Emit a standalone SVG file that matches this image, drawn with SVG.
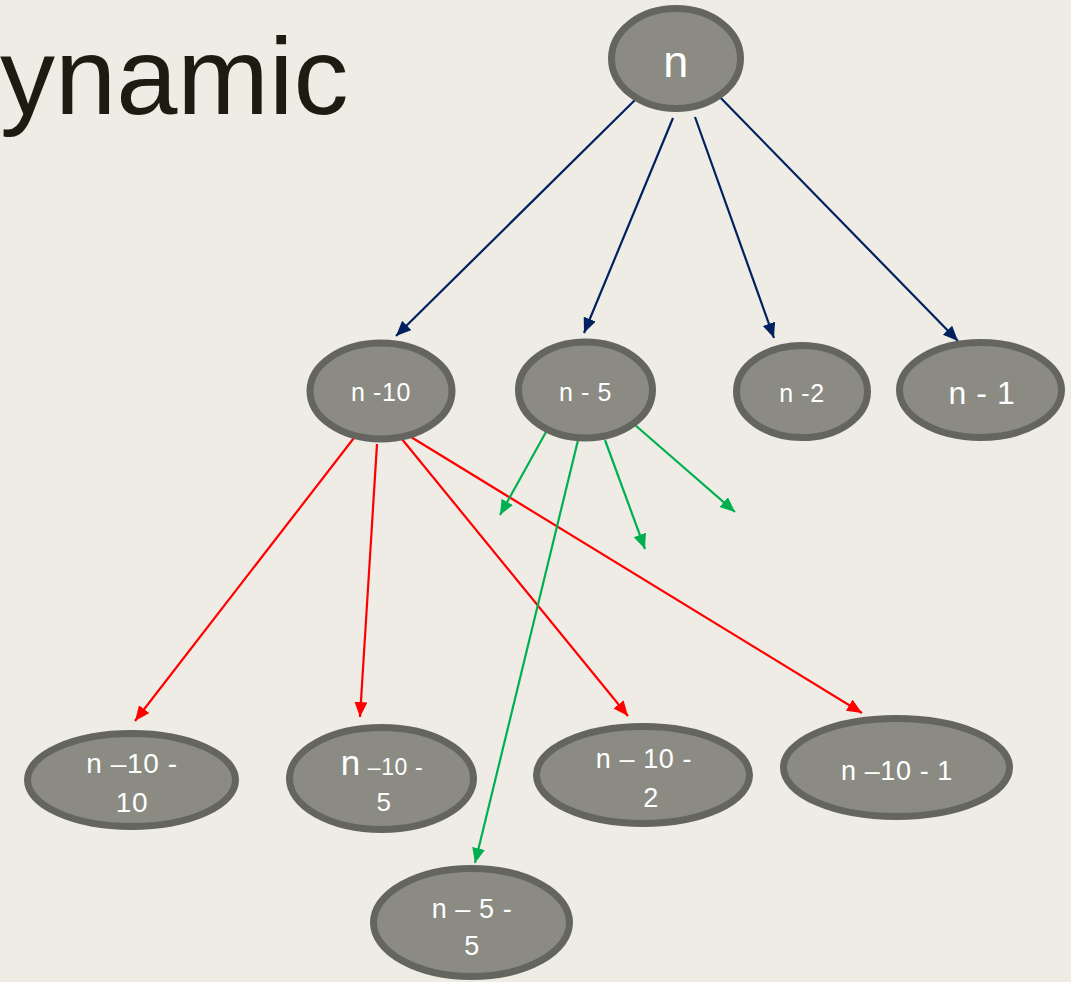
<svg xmlns="http://www.w3.org/2000/svg" width="1071" height="982" viewBox="0 0 1071 982">
<style>
.node{fill:#8b8b84;stroke:#65655f;stroke-width:7}
.t{fill:#ffffff;font-family:"Liberation Sans",Arial,sans-serif;text-anchor:middle;letter-spacing:0.6px}
.navy{stroke:#002060;stroke-width:2.2;fill:none;marker-end:url(#mNavy)}
.red{stroke:#ff0000;stroke-width:2.2;fill:none;marker-end:url(#mRed)}
.green{stroke:#00b050;stroke-width:2.2;fill:none;marker-end:url(#mGreen)}
</style>
<defs>
<marker id="mNavy" markerUnits="userSpaceOnUse" markerWidth="16" markerHeight="14" refX="15" refY="6.5" orient="auto"><path d="M0,0 L15,6.5 L0,13 z" fill="#002060"/></marker>
<marker id="mRed" markerUnits="userSpaceOnUse" markerWidth="16" markerHeight="14" refX="15" refY="6.5" orient="auto"><path d="M0,0 L15,6.5 L0,13 z" fill="#ff0000"/></marker>
<marker id="mGreen" markerUnits="userSpaceOnUse" markerWidth="16" markerHeight="14" refX="15" refY="6.5" orient="auto"><path d="M0,0 L15,6.5 L0,13 z" fill="#00b050"/></marker>
</defs>
<rect width="1071" height="982" fill="#eeece4"/>
<text x="0" y="114" font-family="Liberation Sans,Arial,sans-serif" font-size="110" fill="#1c1c10">ynamic</text>

<g id="connectors">
<line class="navy" x1="636" y1="99" x2="396" y2="336"/>
<line class="navy" x1="673" y1="118" x2="584" y2="333"/>
<line class="navy" x1="695" y1="117" x2="774" y2="338"/>
<line class="navy" x1="713" y1="90" x2="958" y2="341"/>
<line class="red" x1="357" y1="434" x2="135" y2="721"/>
<line class="red" x1="377" y1="444" x2="360" y2="717"/>
<line class="red" x1="397" y1="433" x2="628" y2="716"/>
<line class="red" x1="411" y1="437" x2="862" y2="713"/>
<line class="green" x1="546" y1="432" x2="500" y2="515"/>
<line class="green" x1="580" y1="432" x2="475" y2="863"/>
<line class="green" x1="605" y1="440" x2="645" y2="549"/>
<line class="green" x1="635" y1="425" x2="735" y2="512"/>
</g>

<g id="node-n"><ellipse class="node" cx="676" cy="58.5" rx="64.5" ry="50"/><text class="t" x="676" y="77" font-size="45">n</text></g>
<g id="node-n10"><ellipse class="node" cx="381" cy="391" rx="71" ry="48"/><text class="t" x="381" y="401" font-size="25">n -10</text></g>
<g id="node-n5"><ellipse class="node" cx="585.5" cy="390" rx="67" ry="48"/><text class="t" x="585.5" y="401" font-size="25">n - 5</text></g>
<g id="node-n2"><ellipse class="node" cx="802" cy="391.5" rx="65.5" ry="46"/><text class="t" x="802" y="402" font-size="25">n -2</text></g>
<g id="node-n1"><ellipse class="node" cx="980.5" cy="390" rx="81" ry="47.5"/><text class="t" x="982" y="404" font-size="32">n - 1</text></g>
<g id="node-n10-10"><ellipse class="node" cx="131.5" cy="780" rx="104" ry="46.5"/><text class="t" x="132" y="773" font-size="28">n –10 -</text><text class="t" x="132" y="812" font-size="28">10</text></g>
<g id="node-n10-5"><ellipse class="node" cx="381.5" cy="778.5" rx="92" ry="51"/><text class="t" x="382" y="775"><tspan font-size="35">n</tspan><tspan font-size="23"> –10 -</tspan></text><text class="t" x="384" y="811" font-size="26">5</text></g>
<g id="node-n10-2"><ellipse class="node" cx="643" cy="775" rx="106.5" ry="48.5"/><text class="t" x="644" y="768" font-size="27">n – 10 -</text><text class="t" x="651" y="807" font-size="27">2</text></g>
<g id="node-n10-1"><ellipse class="node" cx="896.5" cy="767.5" rx="113" ry="49"/><text class="t" x="897" y="780" font-size="27">n –10 - 1</text></g>
<g id="node-n5-5"><ellipse class="node" cx="471.5" cy="922.5" rx="98" ry="54"/><text class="t" x="472" y="918" font-size="27">n – 5 -</text><text class="t" x="472" y="955" font-size="27">5</text></g>
</svg>
